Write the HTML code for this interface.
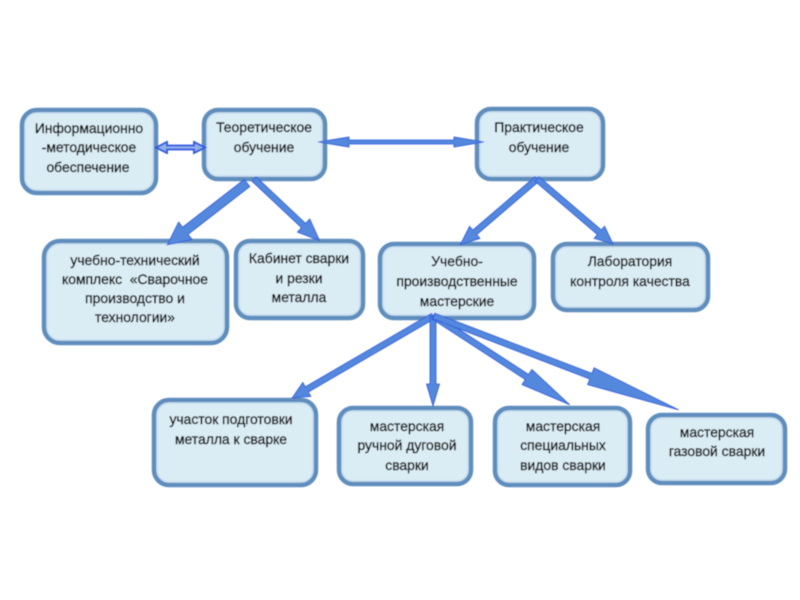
<!DOCTYPE html>
<html><head><meta charset="utf-8"><style>
html,body{margin:0;padding:0;background:#fff;width:800px;height:600px;overflow:hidden}
svg{display:block}
.b{fill:#daecf4;stroke:#5f8dbd;stroke-width:4.5}
.i{fill:none;stroke:#c4dcee;stroke-width:1.2}
text{font-family:"Liberation Sans",sans-serif;font-size:13.9px;fill:#141414;text-anchor:middle;stroke:#141414;stroke-width:.42}
.a{fill:#5388dc;stroke:#2f55e0;stroke-width:.8}
</style></head><body>
<svg width="800" height="600" viewBox="0 0 800 600" xmlns="http://www.w3.org/2000/svg">
<defs><filter id="s" x="-2%" y="-2%" width="104%" height="104%"><feGaussianBlur stdDeviation="0.45"/></filter></defs>
<g filter="url(#s)">
<rect class="b" x="22" y="110" width="134" height="83" rx="15"/><rect class="i" x="25" y="113" width="128" height="77" rx="12"/>
<rect class="b" x="204" y="110" width="121" height="69" rx="14"/><rect class="i" x="207" y="113" width="115" height="63" rx="11"/>
<rect class="b" x="477" y="109" width="126" height="70" rx="14"/><rect class="i" x="480" y="112" width="120" height="64" rx="11"/>
<rect class="b" x="44" y="241" width="183" height="102" rx="16"/><rect class="i" x="47" y="244" width="177" height="96" rx="13"/>
<rect class="b" x="236" y="241" width="127" height="77" rx="14"/><rect class="i" x="239" y="244" width="121" height="71" rx="11"/>
<rect class="b" x="380" y="244" width="154" height="74" rx="14"/><rect class="i" x="383" y="247" width="148" height="68" rx="11"/>
<rect class="b" x="553" y="244" width="155" height="66" rx="14"/><rect class="i" x="556" y="247" width="149" height="60" rx="11"/>
<rect class="b" x="154" y="400" width="162" height="85" rx="15"/><rect class="i" x="157" y="403" width="156" height="79" rx="12"/>
<rect class="b" x="339" y="408" width="132" height="76" rx="14"/><rect class="i" x="342" y="411" width="126" height="70" rx="11"/>
<rect class="b" x="495" y="408" width="135" height="77" rx="14"/><rect class="i" x="498" y="411" width="129" height="71" rx="11"/>
<rect class="b" x="648" y="415" width="137" height="68" rx="14"/><rect class="i" x="651" y="418" width="131" height="62" rx="11"/>

<polygon points="156,147.5 167,142 167,145.5 194,145.5 194,142 205,147.5 194,153 194,149.5 167,149.5 167,153" style="fill:#8fb0ea;stroke:#2f55e0;stroke-width:1.8"/>
<polygon class="a" points="318,142 349,137 349,140 454,140 454,137 484,142 454,147 454,144 349,144 349,147"/>
<g transform="translate(247 183) rotate(142.2)"><polygon class="a" points="0,-4.5 78,-4.5 78,-11 101,0 78,11 78,4.5 0,4.5"/></g>
<g transform="translate(254 179) rotate(43.2)"><polygon class="a" points="0,-3 68,-3 68,-9 90,0 68,9 68,3 0,3"/></g>
<g transform="translate(537 179) rotate(139.4)"><polygon class="a" points="0,-3 82,-3 82,-8 101,0 82,8 82,3 0,3"/></g>
<g transform="translate(537 179) rotate(40.5)"><polygon class="a" points="0,-3 82,-3 82,-8 100,0 82,8 82,3 0,3"/></g>
<g transform="translate(433 316) rotate(149.8)"><polygon class="a" points="0,-3 146,-3 146,-8 163,0 146,8 146,3 0,3"/></g>
<g transform="translate(433 316) rotate(90)"><polygon class="a" points="0,-3 68,-3 68,-6.5 90,0 68,6.5 68,3 0,3"/></g>
<g transform="translate(433 316) rotate(33)"><polygon class="a" points="0,-3 112,-3 112,-9 163,0 112,9 112,3 0,3"/></g>
<g transform="translate(434 316) rotate(21)"><polygon class="a" points="0,-3 168,-3 168,-9 262,0 168,9 168,3 0,3"/></g>

<text x="89" y="133">Информационно</text><text x="89" y="152">-методическое</text><text x="88" y="172">обеспечение</text>
<text x="264" y="132">Теоретическое</text><text x="264" y="152">обучение</text>
<text x="539" y="132">Практическое</text><text x="539" y="152">обучение</text>
<text x="135" y="265">учебно-технический</text><text x="135" y="284">комплекс&#160; «Сварочное</text><text x="135" y="303">производство и</text><text x="135" y="322">технологии»</text>
<text x="299" y="263">Кабинет сварки</text><text x="299" y="283">и резки</text><text x="299" y="302">металла</text>
<text x="457" y="266">Учебно-</text><text x="457" y="286">производственные</text><text x="457" y="306">мастерские</text>
<text x="630" y="266">Лаборатория</text><text x="630" y="286">контроля качества</text>
<text x="231" y="424">участок подготовки</text><text x="231" y="444">металла к сварке</text>
<text x="407" y="431">мастерская</text><text x="407" y="450">ручной дуговой</text><text x="407" y="470">сварки</text>
<text x="563" y="431">мастерская</text><text x="563" y="450">специальных</text><text x="563" y="470">видов сварки</text>
<text x="717" y="437">мастерская</text><text x="717" y="456">газовой сварки</text>
</g>
</svg>
</body></html>
